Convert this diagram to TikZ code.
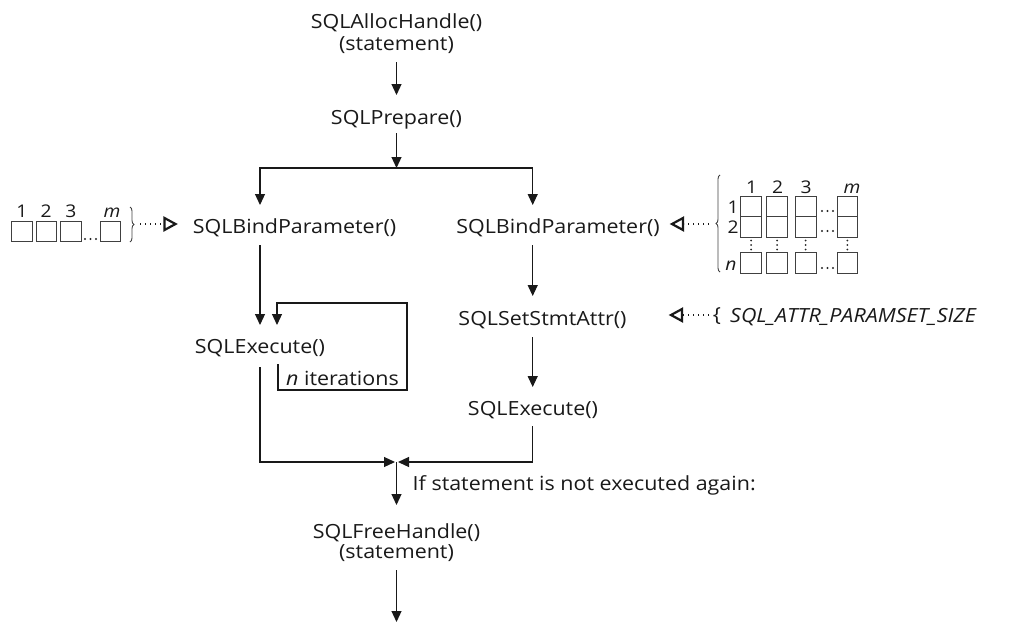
\documentclass[tikz,border=0pt]{standalone}
\usepackage{fontspec}
\setmainfont{Open Sans}[FakeStretch=1.1]
\usetikzlibrary{arrows.meta,decorations.pathreplacing}
\begin{document}
\begin{tikzpicture}[x=1pt,y=-1pt,
  txt/.style={inner sep=0pt, anchor=base, font=\fontsize{19.5}{22}\selectfont, text=black!90},
  lbl/.style={inner sep=0pt, anchor=base, font=\fontsize{17.5}{20}\selectfont, text=black!90},
  conn/.style={line width=1.2pt, draw=black!90},
  arr/.style={conn, -{Triangle[length=11pt,width=10pt]}},
  dotline/.style={line width=1.3pt, draw=black!90, dash pattern=on 1.2pt off 3.8pt},
  otri/.style={draw=black!90, line width=2.2pt, line join=miter, fill=white},
  cell/.style={draw=black!75, line width=0.9pt},
  thinbrace/.style={draw=black!75, line width=0.9pt, decorate, decoration={brace, amplitude=4pt}},
  dotc/.style={fill=black!85},
]
\useasboundingbox (0,0) rectangle (1016,624);

% main flow nodes
\node[txt] (alloc)  at (396.5,28)  {SQLAllocHandle()};
\node[txt] (allocS) at (396.5,50)  {(statement)};
\node[txt] (prep)   at (396.5,124) {SQLPrepare()};
\node[txt] (bindL)  at (294.5,233) {SQLBindParameter()};
\node[txt] (bindR)  at (558,233)   {SQLBindParameter()};
\node[txt] (execL)  at (260,353)   {SQLExecute()};
\node[txt] (setR)   at (542.5,325) {SQLSetStmtAttr()};
\node[txt] (execR)  at (533,415)   {SQLExecute()};
\node[txt, anchor=base west] (iter) at (286,385) {\textit{n} iterations};
\node[txt, anchor=base west] (cond) at (412.5,490) {If statement is not executed again:};
\node[txt] (free)   at (396.5,538) {SQLFreeHandle()};
\node[txt] (freeS)  at (396.5,558) {(statement)};
\node[txt, anchor=base west] (attr) at (730,322) {\textit{SQL\_ATTR\_PARAMSET\_SIZE}};
\node[txt] (attrB) at (717,321) {\{};

% port coordinates
\coordinate (split) at (396.5,168);
\coordinate (bLin)  at (260,205);
\coordinate (bRin)  at (532.7,205);
\coordinate (merge) at (396.5,462);
\coordinate (endp)  at (396.5,622);
\coordinate (loopS) at (278,364);
\coordinate (loopR) at (407,390);
\coordinate (loopT) at (277,303);
\coordinate (loopIn) at (277,325);

% connectors
\draw[arr] (allocS.south |- 0,62) -- (prep.north |- 0,95);
\draw[arr] (prep.south |- 0,133) -- (split);
\draw[arr] (split) -| (bLin);
\draw[arr] (split) -| (bRin);
\draw[arr] (bLin |- 0,245) -- (bLin |- 0,325);
\draw[arr] (loopS) |- (loopR) |- (loopT) -- (loopIn);
\draw[arr] (bLin |- 0,367) |- ([xshift=-1.5pt]merge);
\draw[arr] (bRin |- 0,245) -- (bRin |- 0,296);
\draw[arr] (bRin |- 0,337) -- (bRin |- 0,387);
\draw[arr] (bRin |- 0,426) |- ([xshift=1.5pt]merge);
\draw[arr] (merge) -- (merge |- 0,505);
\draw[arr] (merge |- 0,570) -- (endp);

% left parameter array
\foreach \x/\l in {11.7/1,36/2,60.7/3} {
  \draw[cell] (\x,221) rectangle +(20.5,20.7);
  \node[lbl] at (\x+10.25,217) {\l};
}
\draw[cell] (100.7,221) rectangle +(20.2,20.7);
\node[lbl] (mL) at (112,217) {\textit{m}};
\foreach \x in {85,90.5,96} \fill[dotc] (\x,239) circle (1.1pt);
\draw[thinbrace] (130,207) -- (130,242);
\coordinate (lsrc) at (140,224);
\coordinate (ltip) at (175.5,224);
\draw[dotline] (lsrc) -- ([xshift=-12pt]ltip);
\draw[otri] (ltip) -- ++(-11,-6) -- ++(0,12) -- cycle;

% right parameter grid
\foreach \x/\l in {740.7/1,766.7/2,795/3} {
  \draw[cell] (\x,196) rectangle +(21,20.7);
  \draw[cell] (\x,216.7) rectangle +(21,20.3);
  \draw[cell] (\x,252.7) rectangle +(21,20.3);
  \foreach \y in {240.5,245,249.5} \fill[dotc] (\x+10.5,\y) circle (1pt);
  \node[lbl] at (\x+11,193) {\l};
}
\draw[cell] (837,196) rectangle +(20.5,20.7);
\draw[cell] (837,216.7) rectangle +(20.5,20.3);
\draw[cell] (837,252.7) rectangle +(20.5,20.3);
\foreach \y in {240.5,245,249.5} \fill[dotc] (847.3,\y) circle (1pt);
\node[lbl] (mR) at (852,193) {\textit{m}};
\node[lbl] (r1) at (733,213) {1};
\node[lbl] (r2) at (733,233) {2};
\node[lbl] (rn) at (731,270) {\textit{n}};
\foreach \y in {213,233,270} {
  \foreach \x in {822,827.5,833} \fill[dotc] (\x,\y-2) circle (1.1pt);
}
\draw[thinbrace] (720,272) -- (720,175);
\coordinate (rsrc) at (709,224);
\coordinate (rtip) at (672,224);
\draw[dotline] (rsrc) -- ([xshift=12pt]rtip);
\draw[otri] (rtip) -- ++(11,-6) -- ++(0,12) -- cycle;
\coordinate (asrc) at (709,315);
\coordinate (atip) at (671,315);
\draw[dotline] (asrc) -- ([xshift=12pt]atip);
\draw[otri] (atip) -- ++(11,-6) -- ++(0,12) -- cycle;
\end{tikzpicture}
\end{document}
